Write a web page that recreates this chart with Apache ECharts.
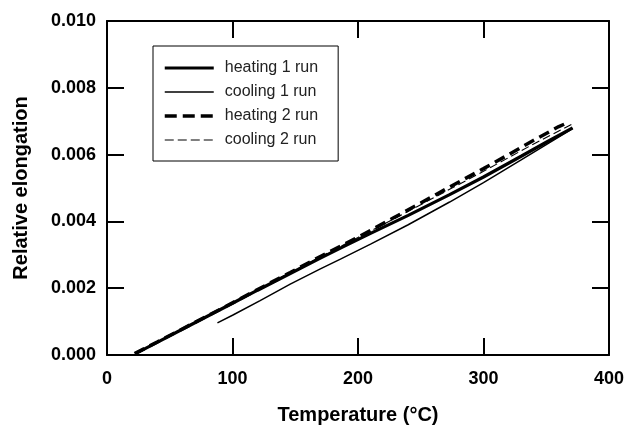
<!DOCTYPE html>
<html>
<head>
<meta charset="utf-8">
<script src="https://cdn.jsdelivr.net/npm/echarts@6/dist/echarts.min.js"></script>
<style>html,body{margin:0;padding:0;background:#fff}#c{width:625px;height:425px}</style>
</head>
<body>
<div id="c"></div>
<script>
// ---- data (Temperature °C, Relative elongation) ----
const seriesNames = ['heating 1 run', 'cooling 1 run', 'heating 2 run', 'cooling 2 run'];

const heating1T = [23, 40, 60, 80, 100, 120, 146, 170, 186, 210, 240, 273, 300, 330, 350, 371];
const heating1E = [0.00005, 0.00038, 0.00077, 0.00116, 0.00155, 0.00194, 0.00244, 0.00290, 0.00320, 0.00364, 0.00418, 0.00480, 0.00533, 0.00595, 0.00637, 0.00680];

const cooling1T = [371, 350, 330, 300, 273, 240, 210, 186, 170, 146, 122, 100, 88];
const cooling1E = [0.00678, 0.00630, 0.00584, 0.00516, 0.00458, 0.00390, 0.00332, 0.00287, 0.00258, 0.00212, 0.00163, 0.00119, 0.00096];

const heating2T = [22, 40, 60, 80, 100, 120, 146, 170, 190, 210, 228, 250, 273, 300, 320, 340, 360, 368];
const heating2E = [0.00004, 0.00039, 0.00078, 0.00117, 0.00156, 0.00196, 0.00247, 0.00295, 0.00333, 0.00373, 0.00410, 0.00455, 0.00503, 0.00558, 0.00600, 0.00643, 0.00684, 0.00697];

const cooling2T = [370, 340, 300, 273, 250, 228, 200, 170, 146, 120, 100, 80, 60, 40, 25];
const cooling2E = [0.00690, 0.00632, 0.00550, 0.00496, 0.00450, 0.00406, 0.00352, 0.00294, 0.00247, 0.00195, 0.00155, 0.00116, 0.00077, 0.00038, 0.00006];

const xTicks = [0, 100, 200, 300, 400];
const yTicks = [0, 0.002, 0.004, 0.006, 0.008, 0.010];

function pairs(t, e) { return t.map((v, i) => [v, e[i]]); }

const chart = echarts.init(document.getElementById('c'), null, { renderer: 'canvas' });
const FONT = '"Liberation Sans", Arial, sans-serif';
const axisLine = { show: true, onZero: false, lineStyle: { color: '#000', width: 2 } };
const tick = { show: true, inside: true, length: 17, lineStyle: { color: '#000', width: 2 } };

const styles = [
  { width: 3.2, type: 'solid', legendType: 'solid' },
  { width: 1.5, type: 'solid', legendType: 'solid' },
  { width: 3.5, type: [11, 6], legendType: [12, 6] },
  { width: 1.1, type: [8, 4], legendType: [9, 4] }
];
const datasets = [pairs(heating1T, heating1E), pairs(cooling1T, cooling1E), pairs(heating2T, heating2E), pairs(cooling2T, cooling2E)];

chart.setOption({
  animation: false,
  backgroundColor: '#fff',
  grid: { left: 107, right: 16, top: 21, bottom: 70, containLabel: false, outerBoundsMode: 'none' },
  legend: {
    orient: 'vertical',
    left: 153, top: 46,
    padding: [14, 20, 13, 10],
    itemGap: 8,
    itemWidth: 49, itemHeight: 14,
    borderColor: '#000', borderWidth: 1,
    data: seriesNames.map((n, i) => ({
      name: n,
      lineStyle: { color: '#000', width: styles[i].width, type: styles[i].legendType }
    })),
    itemStyle: { opacity: 0 },
    textStyle: { fontFamily: FONT, fontSize: 16, color: '#222', padding: [0, 0, 0, 6] }
  },
  xAxis: [
    {
      type: 'value', min: xTicks[0], max: xTicks[xTicks.length - 1], interval: 100,
      position: 'bottom',
      name: 'Temperature (°C)', nameLocation: 'middle', nameGap: 50,
      nameTextStyle: { fontFamily: FONT, fontSize: 20, fontWeight: 'bold', color: '#000' },
      axisLine, axisTick: tick, splitLine: { show: false },
      axisLabel: { margin: 15, fontFamily: FONT, fontSize: 18, fontWeight: 'bold', color: '#000' }
    },
    {
      type: 'value', min: xTicks[0], max: xTicks[xTicks.length - 1], interval: 100,
      position: 'top', axisLine, axisTick: tick, splitLine: { show: false },
      axisLabel: { show: false }
    }
  ],
  yAxis: [
    {
      type: 'value', min: yTicks[0], max: yTicks[yTicks.length - 1], interval: 0.002,
      position: 'left',
      name: 'Relative elongation', nameLocation: 'middle', nameGap: 76,
      nameTextStyle: { fontFamily: FONT, fontSize: 20, fontWeight: 'bold', color: '#000' },
      axisLine, axisTick: tick, splitLine: { show: false },
      axisLabel: { margin: 11, fontFamily: FONT, fontSize: 18, fontWeight: 'bold', color: '#000',
        formatter: v => v.toFixed(3) }
    },
    {
      type: 'value', min: yTicks[0], max: yTicks[yTicks.length - 1], interval: 0.002,
      position: 'right', axisLine, axisTick: tick, splitLine: { show: false },
      axisLabel: { show: false }
    }
  ],
  series: seriesNames.map((n, i) => ({
    name: n, type: 'line', data: datasets[i],
    xAxisIndex: 0, yAxisIndex: 0,
    symbol: 'none', showSymbol: false, smooth: false,
    lineStyle: { color: '#000', width: styles[i].width, type: styles[i].type },
    itemStyle: { color: '#000' },
    z: 3 + i
  }))
});
</script>
</body>
</html>
